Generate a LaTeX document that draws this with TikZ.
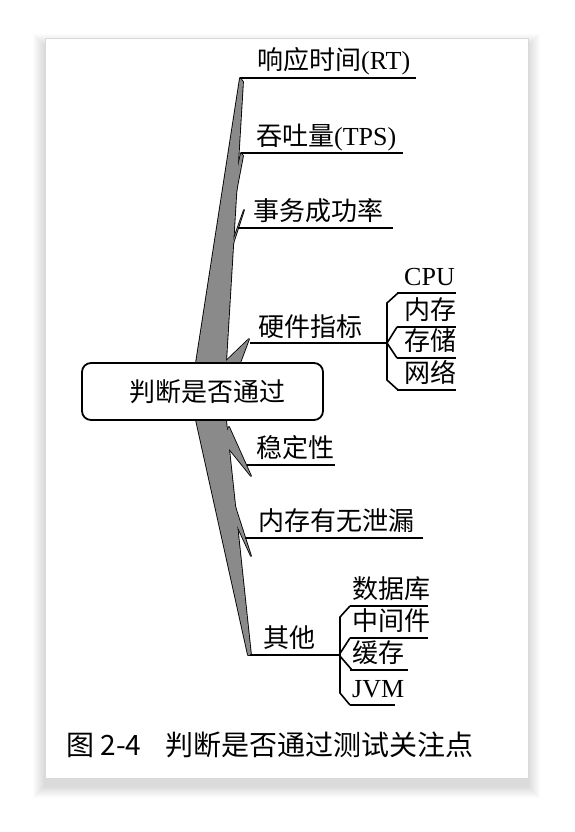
\documentclass[tikz,border=0pt]{standalone}
\usepackage{fontspec}
\setmainfont{Liberation Serif}
\newfontfamily\cjk{Noto Sans CJK SC}
\newcommand\zh[1]{{\cjk #1}}
\definecolor{trunkgray}{HTML}{8A8A8A}
\tikzset{
  lbl/.style={font=\fontsize{26}{30}\selectfont, inner sep=0pt, anchor=base west},
  uline/.style={line width=1.7pt},
  bline/.style={line width=1.6pt, line join=miter},
  wedgeline/.style={draw=black, line width=1.7pt, line join=round},
  wedgefill/.style={fill=trunkgray},
}
% trunk and spikes, drawn twice: outlines first, fills on top
\newcommand\trunkparts[1]{%
  \path[#1] (240,78) -- (243,82) -- (226,363) -- (196,363) -- cycle;
  \path[#1] (241,153) -- (243,156) -- (235,198) -- (232,194) -- cycle;
  \path[#1] (244,210) -- (231,250) -- (228,255) -- cycle;
  \path[#1] (249,339) -- (240,363) -- (224,363) -- cycle;
  \path[#1] (196,420) -- (226,420) -- (251,655) -- (248,655) -- cycle;
  \path[#1] (222,440) -- (229,427) -- (251,476) -- cycle;
  \path[#1] (228,506) -- (232,497) -- (251,556) -- cycle;
}
\begin{document}
\begin{tikzpicture}[x=1pt,y=-1pt]
      \useasboundingbox (0,0) rectangle (574,832);
      \fill[white] (0,0) rectangle (574,832);
      % --- page and its shadow ---
      \foreach \r in {1,...,12} {
        \fill[black, opacity=0.01] (45-\r,46-\r) rectangle (528+\r,786+\r);
      }
      \fill[white] (45,38) rectangle (528,778);
      \draw[gray!30, line width=0.6pt] (45,38) rectangle (528,778);
      % --- branch roots ---
      \coordinate (rt-root) at (240,78);
      \coordinate (tps-root) at (241,153);
      \coordinate (succ-root) at (238,228);
      \coordinate (hw-root) at (250,343);
      \coordinate (stab-root) at (247,465);
      \coordinate (leak-root) at (245,538);
      \coordinate (oth-root) at (250,655);
      \coordinate (hw-fork) at (387,343);
      \coordinate (oth-fork) at (339,655);
      % --- trunk and spikes ---
      \trunkparts{wedgeline}
      \trunkparts{wedgefill}
      % --- branches ---
      \node[lbl] (rt) at (257,70) {\zh{响应时间}(RT)};
      \draw[uline] (rt-root) -- ++(176,0);
      \node[lbl] (tps) at (256,145) {\zh{吞吐量}(TPS)};
      \draw[uline] (tps-root) -- ++(162,0);
      \node[lbl] (succ) at (253,220) {\zh{事务成功率}};
      \draw[uline] (succ-root) -- ++(155,0);
      \node[lbl] (hw) at (258,336) {\zh{硬件指标}};
      \draw[uline] (hw-root) -- (hw-fork);
      \node[lbl] (stab) at (256,457) {\zh{稳定性}};
      \draw[uline] (stab-root) -- ++(88,0);
      \node[lbl] (leak) at (258,530) {\zh{内存有无泄漏}};
      \draw[uline] (leak-root) -- ++(178,0);
      \node[lbl] (oth) at (263,647) {\zh{其他}};
      \draw[uline] (oth-root) -- (oth-fork);
      % --- hardware items ---
      \foreach \i/\txt/\dy in {1/CPU/-50, 2/\zh{内存}/-16, 3/\zh{存储}/15, 4/\zh{网络}/47} {
        \draw[uline] ([shift={(10,\dy)}]hw-fork) -- ++(59,0);
        \node[lbl] (hw-\i) at ([shift={(17,\dy-8)}]hw-fork) {\txt};
      }
      \draw[bline] ([shift={(11,-50)}]hw-fork) -- ++(-11,10) -- ([shift={(0,37)}]hw-fork) -- ++(11,10);
      \draw[bline] ([shift={(10,-16)}]hw-fork) -- (hw-fork) -- ([shift={(10,15)}]hw-fork);
      % --- other items ---
      \foreach \i/\txt/\dy/\len in {1/\zh{数据库}/-49/78, 2/\zh{中间件}/-17/78, 3/\zh{缓存}/15/58, 4/JVM/50/45} {
        \draw[uline] ([shift={(11,\dy)}]oth-fork) -- ++(\len,0);
        \node[lbl] (oth-\i) at ([shift={(13,\dy-8)}]oth-fork) {\txt};
      }
      \draw[bline] ([shift={(11,-49)}]oth-fork) -- ++(-10,11) -- ([shift={(1,38)}]oth-fork) -- ++(10,12);
      \draw[bline] ([shift={(11,-17)}]oth-fork) -- (oth-fork) -- ([shift={(13,15)}]oth-fork);
      % --- centre ---
      \node[draw, fill=white, line width=1.8pt, rounded corners=9pt,
        minimum width=241pt, minimum height=57pt, inner sep=0pt,
        font=\fontsize{26}{30}\selectfont] (judge) at (202.5,391.5)
        {\hspace{10pt}\zh{判断是否通过}};
      % --- caption ---
      \node[lbl, font=\fontsize{28}{32}\selectfont] (caption) at (66,755)
        {\zh{图 2-4\hspace{24pt}判断是否通过测试关注点}};
    \end{tikzpicture}
\end{document}
